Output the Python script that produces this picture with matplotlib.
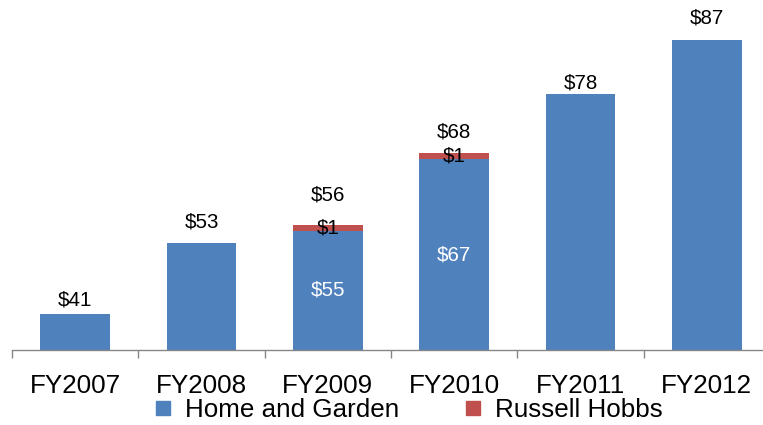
import matplotlib
matplotlib.use('Agg')
import matplotlib.pyplot as plt
from matplotlib.lines import Line2D

categories = ['FY2007', 'FY2008', 'FY2009', 'FY2010', 'FY2011', 'FY2012']
home_garden = [41, 53, 55, 67, 78, 87]
russell_hobbs = [0, 0, 1, 1, 0, 0]
totals = [41, 53, 56, 68, 78, 87]

# pixel gap between total label centre and bar top (styling)
label_gap_px = [14, 21, 30, 21, 11, 22]

plt.rcParams['font.family'] = ['Liberation Sans', 'DejaVu Sans']

W, H = 763, 425
fig = plt.figure(figsize=(W / 100, H / 100), dpi=100)
ymin, ymax = 35, 90
ax = fig.add_axes([12 / W, 1 - 350 / H, 758 / W, (ymax - ymin) * 5.9565 / H])

blue = '#4F81BD'
red = '#C0504D'
x = list(range(len(categories)))
bw = 0.55

ax.bar(x, home_garden, width=bw, color=blue, zorder=2)
ax.bar(x, russell_hobbs, width=bw, bottom=home_garden, color=red, zorder=2)

ax.set_xlim(-0.5, len(categories) - 0.5)
ax.set_ylim(ymin, ymax)

# totals
for i, (t, g, r) in enumerate(zip(totals, home_garden, russell_hobbs)):
    top = g + r
    ax.annotate(f'${t}', xy=(i, top), xytext=(0, label_gap_px[i]),
                textcoords='offset pixels', ha='center', va='center',
                fontsize=14.8, color='black', annotation_clip=False)
    if r > 0:
        ax.text(i, g + r / 2, f'${r}', ha='center', va='center',
                fontsize=14.8, color='black', zorder=3)
        ax.text(i, (ymin + g) / 2, f'${g}', ha='center', va='center',
                fontsize=14.8, color='white', zorder=3)

# axes styling
for s in ['top', 'right', 'left']:
    ax.spines[s].set_visible(False)
ax.spines['bottom'].set_color('#868686')
ax.spines['bottom'].set_linewidth(1.0)
ax.set_yticks([])

ax.set_xticks([i - 0.5 for i in range(len(categories) + 1)])
ax.set_xticklabels([])
ax.tick_params(axis='x', which='major', direction='out', length=5.5,
               width=1.0, color='#868686')
ax.set_xticks(x, minor=True)
ax.set_xticklabels(categories, minor=True)
ax.tick_params(axis='x', which='minor', length=0, pad=17, labelsize=18.7)

handles = [
    Line2D([], [], linestyle='none', marker='s', markersize=10.5,
           markerfacecolor=blue, markeredgecolor=blue, label='Home and Garden'),
    Line2D([], [], linestyle='none', marker='s', markersize=10.5,
           markerfacecolor=red, markeredgecolor=red, label='Russell Hobbs'),
]
fig.legend(handles=handles, loc='center', bbox_to_anchor=(409 / W, 1 - 410 / H),
           ncol=2, frameon=False, fontsize=18.7, handlelength=0.6,
           handletextpad=0.55, columnspacing=2.55, borderpad=0, borderaxespad=0)

fig.savefig('out.png', dpi=100)
